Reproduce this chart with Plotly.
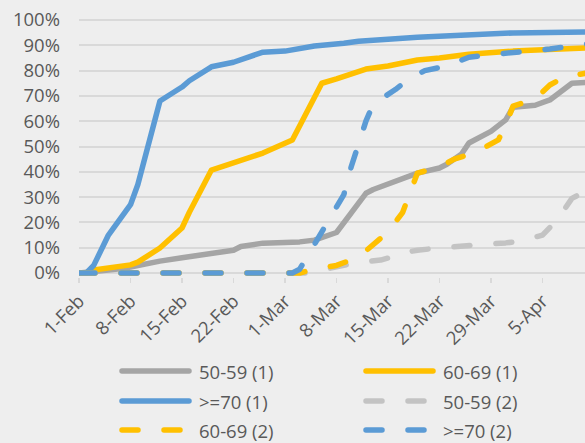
import plotly.graph_objects as go

# ---------------- data ----------------
gray1_dates = ["2021-02-01","2021-02-03","2021-02-06","2021-02-08","2021-02-10","2021-02-12","2021-02-15",
               "2021-02-17","2021-02-20","2021-02-22","2021-02-23","2021-02-24","2021-02-26","2021-03-03",
               "2021-03-05","2021-03-08","2021-03-10","2021-03-12","2021-03-13","2021-03-15","2021-03-19",
               "2021-03-22","2021-03-23","2021-03-25","2021-03-26","2021-03-29","2021-03-31","2021-04-01",
               "2021-04-04","2021-04-06","2021-04-08","2021-04-09","2021-04-11"]
gray1_vals = [0,0.5,1.5,2.4,3.8,4.7,6,7,8,9,10.5,11,11.8,12.3,13,16,23.5,31.5,33,35.3,39.5,
              41.5,43,47,51.4,56,60.5,65.5,66.3,68.4,73,75,75.3]

yellow1_dates = ["2021-02-01","2021-02-02","2021-02-03","2021-02-08","2021-02-09","2021-02-12","2021-02-15",
                 "2021-02-16","2021-02-19","2021-02-22","2021-02-24","2021-02-26","2021-03-02","2021-03-06",
                 "2021-03-08","2021-03-12","2021-03-15","2021-03-19","2021-03-22","2021-03-26","2021-04-01",
                 "2021-04-06","2021-04-11"]
yellow1_vals = [0,0,1.2,3.2,4.3,9.9,17.8,24,40.7,43.5,45.5,47.4,52.6,75,76.7,80.6,81.8,84.2,85,86.5,87.7,88.5,89]

blue1_dates = ["2021-02-01","2021-02-02","2021-02-03","2021-02-05","2021-02-08","2021-02-09","2021-02-12",
               "2021-02-15","2021-02-16","2021-02-18","2021-02-19","2021-02-22","2021-02-26","2021-03-01",
               "2021-03-03","2021-03-05","2021-03-09","2021-03-11","2021-03-19","2021-03-23","2021-04-01",
               "2021-04-11"]
blue1_vals = [0,0,3,15,27,35,68,73.5,76,80,81.5,83.3,87.3,87.7,88.9,89.7,90.8,91.6,93.2,93.7,94.9,95.3]

gray2_dates = ["2021-02-01","2021-03-04","2021-03-08","2021-03-11","2021-03-14","2021-03-15","2021-03-16",
               "2021-03-19","2021-03-22","2021-03-25","2021-03-28","2021-03-31","2021-04-02","2021-04-05",
               "2021-04-07","2021-04-09","2021-04-10","2021-04-11"]
gray2_vals = [0,0,2.4,4.3,5.1,5.9,7.5,9,9.9,10.8,11.3,11.9,12.6,15,21,29.5,31,31.6]

yellow2_dates = ["2021-02-01","2021-03-03","2021-03-05","2021-03-08","2021-03-11","2021-03-13","2021-03-15",
                 "2021-03-17","2021-03-18","2021-03-19","2021-03-22","2021-03-24","2021-03-27","2021-03-30",
                 "2021-03-31","2021-04-01","2021-04-04","2021-04-06","2021-04-08","2021-04-11"]
yellow2_vals = [0,0,1.6,3,6.3,11,16.2,24,31.6,39.5,41.9,45,47.8,52.6,58.5,66,68.8,74.3,77.5,79]

blue2_dates = ["2021-02-01","2021-03-02","2021-03-03","2021-03-08","2021-03-09","2021-03-10","2021-03-11",
               "2021-03-12","2021-03-13","2021-03-16","2021-03-18","2021-03-20","2021-03-23","2021-03-26",
               "2021-03-29","2021-04-01","2021-04-03","2021-04-06","2021-04-09","2021-04-11"]
blue2_vals = [0,0,1.5,26,31,42,51,60,66.8,72.5,77,80,81.8,85.3,86.3,87.4,87.7,88.5,90,90.5]

series_names = ["50-59 (1)", "60-69 (1)", ">=70 (1)", "50-59 (2)", "60-69 (2)", ">=70 (2)"]
series_dates = [gray1_dates, yellow1_dates, blue1_dates, gray2_dates, yellow2_dates, blue2_dates]
series_vals = [gray1_vals, yellow1_vals, blue1_vals, gray2_vals, yellow2_vals, blue2_vals]

# ---------------- styles ----------------
colors = ["#A5A5A5", "#FFC000", "#5B9BD5", "#C3C3C3", "#FFC000", "#5B9BD5"]
DASH = "16px,26px"
dashes = ["solid", "solid", "solid", DASH, DASH, DASH]
LW = 5.5
FONT = "Open Sans"
FS = 18.5
TXT = "#595959"
BG = "#EEEEEE"
GRID = "#D9D9D9"

W, H = 585, 443
PL, PR = 79, 585           # plot area x pixels
Y0, Y100 = 273, 20         # pixel of 0% and 100%
pxpp = (Y0 - Y100)         # pixels per 1.0
ytop_px, ybot_px = 17, 277
ymax = (Y0 - ytop_px) / pxpp
ymin = -(ybot_px - Y0) / pxpp

fig = go.Figure()
for name, d, v, c, ds in zip(series_names, series_dates, series_vals, colors, dashes):
    fig.add_trace(go.Scatter(
        x=d, y=[val / 100 for val in v], name=name, mode="lines",
        line=dict(color=c, width=LW, dash=ds), showlegend=False, hoverinfo="skip"))

# custom legend (2 columns x 3 rows, row-major like the reference)
def px_x(p):
    return (p - PL) / (PR - PL)

def px_y(p):
    return (ybot_px - p) / (ybot_px - ytop_px)

rows_y = [371, 401, 430]
cols = [(119, 192, 197), (363, 436, 441)]
shapes, annots = [], []
for i, name in enumerate(series_names):
    r, c = divmod(i, 2)
    x0, x1, xt = cols[c]
    yy = rows_y[r]
    shapes.append(dict(type="line", xref="paper", yref="paper",
                       x0=px_x(x0 + 3), x1=px_x(x1 - 3), y0=px_y(yy), y1=px_y(yy),
                       line=dict(color=colors[i], width=LW, dash=dashes[i])))
    annots.append(dict(text=name, xref="paper", yref="paper", x=px_x(xt), y=px_y(yy),
                       xanchor="left", yanchor="middle", showarrow=False,
                       font=dict(family=FONT, size=FS, color=TXT)))

fig.update_layout(
    width=W, height=H,
    margin=dict(l=PL, r=W - PR, t=ytop_px, b=H - ybot_px, pad=0, autoexpand=False),
    paper_bgcolor=BG, plot_bgcolor=BG,
    font=dict(family=FONT, size=FS, color=TXT),
    shapes=shapes, annotations=annots,
    showlegend=False,
)
fig.update_xaxes(
    type="date", automargin=False,
    range=["2021-02-01", "2021-04-10 18:40"],
    tick0="2021-02-01", dtick=7 * 86400000,
    tickformat="%-d-%b", tickangle=-45,
    showgrid=False, zeroline=False, showline=False,
    ticks="outside", ticklen=5, tickwidth=1.5, tickcolor=GRID,
    tickfont=dict(family=FONT, size=FS, color=TXT),
)
fig.update_yaxes(
    automargin=False,
    range=[ymin, ymax], tick0=0, dtick=0.1, tickformat=".0%",
    showgrid=True, gridcolor=GRID, gridwidth=2,
    zeroline=True, zerolinecolor=GRID, zerolinewidth=2,
    showline=False, ticks="", ticklabelstandoff=18,
    tickfont=dict(family=FONT, size=FS, color=TXT),
)

post = """
document.body.style.margin = '0';
document.body.style.padding = '0';
document.body.style.overflow = 'hidden';
document.body.style.background = '#EEEEEE';
var gd = document.getElementById('{plot_id}');
gd.querySelectorAll('.scatterlayer path.js-line, .shapelayer path').forEach(function(p){
  p.style.strokeLinecap = 'round';
  p.style.strokeLinejoin = 'round';
});
"""
fig.write_html("out.html", post_script=post, config={"displayModeBar": False, "staticPlot": True})
